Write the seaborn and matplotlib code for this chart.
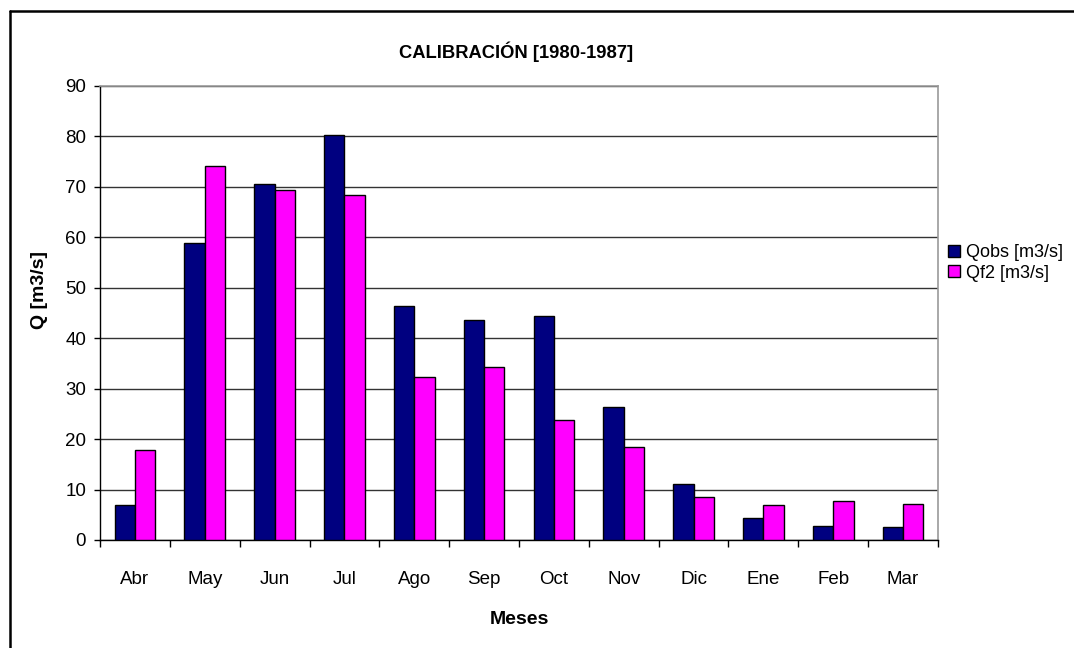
import matplotlib
matplotlib.use("Agg")
import matplotlib.pyplot as plt
import seaborn as sns
import pandas as pd
import numpy as np
from matplotlib.lines import Line2D
from matplotlib.ticker import FixedLocator

months = ["Abr", "May", "Jun", "Jul", "Ago", "Sep", "Oct", "Nov", "Dic", "Ene", "Feb", "Mar"]
qobs = [6.9, 58.9, 70.5, 80.2, 46.3, 43.6, 44.5, 26.3, 11.2, 4.4, 2.8, 2.5]
qf2 = [17.8, 74.2, 69.3, 68.3, 32.3, 34.2, 23.8, 18.5, 8.5, 6.9, 7.8, 7.2]
series_names = ["Qobs [m3/s]", "Qf2 [m3/s]"]
colors = ["#000080", "#FF00FF"]
yticks = list(range(0, 91, 10))

df = pd.DataFrame({
    "Mes": months * 2,
    "Q": qobs + qf2,
    "Serie": [series_names[0]] * len(months) + [series_names[1]] * len(months),
})

sns.set_theme(style="white")
plt.rcParams["font.family"] = ["Liberation Sans", "DejaVu Sans"]
plt.rcParams.update({"text.color": "black", "axes.labelcolor": "black",
                     "xtick.color": "black", "ytick.color": "black"})

fig = plt.figure(figsize=(10.74, 6.48), dpi=100)
ax = fig.add_axes([100/1074, 1-540/648, 838/1074, 454/648])

sns.barplot(data=df, x="Mes", y="Q", hue="Serie", order=months,
            hue_order=series_names, palette=colors, width=0.58,
            edgecolor="black", linewidth=1.0, saturation=1, ax=ax, zorder=3)

ax.set_xlim(-0.5, len(months) - 0.5)
ax.set_ylim(0, 90)
ax.set_yticks(yticks)
ax.yaxis.grid(True, color="#333333", linewidth=1.0, zorder=0)
ax.set_axisbelow(True)

for side in ["top", "right"]:
    ax.spines[side].set_color("#999999")
    ax.spines[side].set_linewidth(1.2)
for side in ["left", "bottom"]:
    ax.spines[side].set_color("black")
    ax.spines[side].set_linewidth(1.0)

ax.tick_params(axis="x", which="major", length=0, pad=22, labelsize=13.5, labelcolor="black")
ax.xaxis.set_minor_locator(FixedLocator(np.arange(-0.5, len(months), 1.0)))
ax.tick_params(axis="x", which="minor", length=5, width=1, color="black", direction="out", bottom=True)
ax.tick_params(axis="y", which="major", length=4, width=1, color="black", direction="out", left=True,
               labelsize=13.5, pad=6, labelcolor="black")

ax.set_xlabel("Meses", fontsize=14, fontweight="bold", color="black")
ax.xaxis.set_label_coords(0.5, (540-620)/454)
ax.xaxis.label.set_va("center")
ax.set_ylabel("Q [m3/s]", fontsize=14, fontweight="bold", color="black")
ax.yaxis.set_label_coords((39-100)/838, (540-290)/454)
ax.yaxis.label.set_va("center")

fig.text(516/1074, 1-52/648, "CALIBRACIÓN [1980-1987]", ha="center", va="center",
         fontsize=13.2, fontweight="bold", color="black")

leg = ax.legend(loc="center left", bbox_to_anchor=(948/1074, 1-263/648), bbox_transform=fig.transFigure,
                frameon=False, fontsize=13, handlelength=0.65, handleheight=0.65, handletextpad=0.35,
                labelspacing=0.2, borderaxespad=0, borderpad=0)
for t in leg.get_texts():
    t.set_color("black")

fig.add_artist(Line2D([10/1074, 10/1074], [0, 1-11/648], transform=fig.transFigure,
                      color="black", linewidth=1.8))
fig.add_artist(Line2D([10/1074, 1], [1-11/648, 1-11/648], transform=fig.transFigure,
                      color="black", linewidth=1.8))

fig.savefig("out.png", dpi=100)
